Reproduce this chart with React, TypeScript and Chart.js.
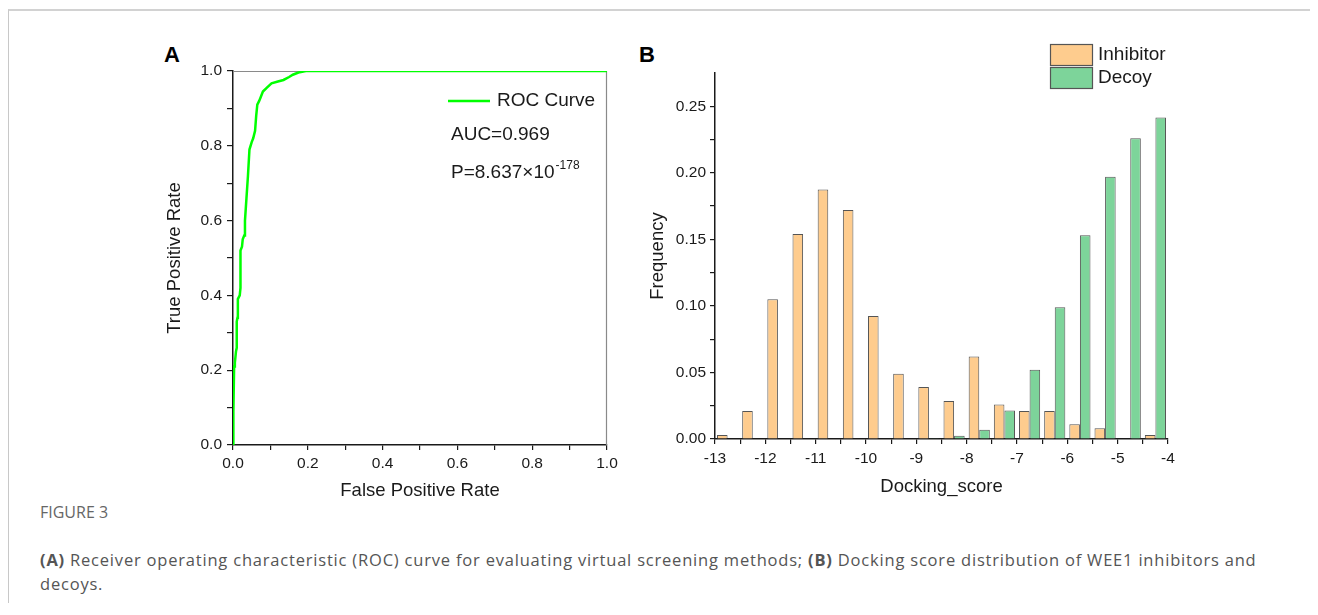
import React, { useEffect, useRef } from "react";
import { Chart, registerables } from "chart.js";
Chart.register(...registerables);

// ---------- Data: panel A (ROC curve) ----------
const rocFpr = [0, 0.0, 0.002, 0.003, 0.005, 0.008, 0.01, 0.01, 0.012, 0.013, 0.018, 0.02, 0.02, 0.024, 0.026, 0.03, 0.032, 0.036, 0.04, 0.044, 0.05, 0.054, 0.059, 0.062, 0.065, 0.07, 0.074, 0.08, 0.09, 0.103, 0.12, 0.135, 0.15, 0.16, 0.175, 0.195, 1.0];
const rocTpr = [0, 0.07, 0.09, 0.21, 0.22, 0.25, 0.26, 0.33, 0.34, 0.39, 0.4, 0.42, 0.52, 0.53, 0.55, 0.56, 0.6, 0.66, 0.72, 0.79, 0.81, 0.82, 0.84, 0.88, 0.91, 0.92, 0.93, 0.945, 0.955, 0.967, 0.972, 0.976, 0.984, 0.99, 0.996, 1.0, 1.0];
const rocLabel = "ROC Curve";
const aucText = "AUC=0.969";
const pText = "P=8.637×10";
const pExp = "-178";

// ---------- Data: panel B (docking score histogram) ----------
const binStarts = [-13, -12.5, -12, -11.5, -11, -10.5, -10, -9.5, -9, -8.5, -8, -7.5, -7, -6.5, -6, -5.5, -5, -4.5];
const inhibitorFreq = [0.003, 0.021, 0.105, 0.154, 0.1875, 0.172, 0.0925, 0.049, 0.039, 0.0285, 0.062, 0.026, 0.021, 0.021, 0.011, 0.008, 0, 0.003];
const decoyFreq = [0, 0, 0, 0, 0, 0, 0, 0, 0.0006, 0.0025, 0.007, 0.0215, 0.052, 0.099, 0.153, 0.197, 0.226, 0.2415];
const seriesNames = ["Inhibitor", "Decoy"];

const FONT = "'Liberation Sans', Arial, Helvetica, sans-serif";
const tickFont = { family: FONT, size: 15.5 };
const titleFont = { family: FONT, size: 18.5 };
const INK = "#1a1a1a";

const rocDecor = {
  id: "rocDecor",
  beforeDatasetsDraw(chart: any) {
    const { ctx, chartArea: a } = chart;
    ctx.save();
    ctx.strokeStyle = "#8a8a8a";
    ctx.lineWidth = 1.2;
    ctx.beginPath();
    ctx.moveTo(a.left, a.top + 0.5);
    ctx.lineTo(a.right - 0.5, a.top + 0.5);
    ctx.lineTo(a.right - 0.5, a.bottom);
    ctx.stroke();
    ctx.restore();
  },
  afterDraw(chart: any) {
    const { ctx, chartArea: a } = chart;
    const ds = chart.data.datasets[0];
    ctx.save();
    ctx.strokeStyle = ds.borderColor;
    ctx.lineWidth = 2.5;
    ctx.beginPath();
    ctx.moveTo(a.left + 215, a.top + 30);
    ctx.lineTo(a.left + 257, a.top + 30);
    ctx.stroke();
    ctx.fillStyle = INK;
    ctx.textBaseline = "middle";
    ctx.textAlign = "left";
    ctx.font = `19px ${FONT}`;
    ctx.fillText(ds.label, a.left + 264, a.top + 30);
    ctx.fillText(aucText, a.left + 218, a.top + 64);
    ctx.fillText(pText, a.left + 218, a.top + 102);
    const w = ctx.measureText(pText).width;
    ctx.font = `12px ${FONT}`;
    ctx.fillText(pExp, a.left + 218 + w + 1, a.top + 95);
    ctx.restore();
  },
};

const histLegend = {
  id: "histLegend",
  afterDraw(chart: any) {
    const { ctx, chartArea: a } = chart;
    ctx.save();
    chart.data.datasets.forEach((ds: any, i: number) => {
      const x = a.right - 118;
      const y = a.top - 29 + i * 23;
      ctx.fillStyle = ds.backgroundColor;
      ctx.fillRect(x, y, 42, 21);
      ctx.strokeStyle = "#555";
      ctx.lineWidth = 1.2;
      ctx.strokeRect(x + 0.5, y + 0.5, 42, 21);
      ctx.fillStyle = INK;
      ctx.font = `19px ${FONT}`;
      ctx.textBaseline = "middle";
      ctx.textAlign = "left";
      ctx.fillText(ds.label, a.right - 70, y + 11);
    });
    ctx.restore();
  },
};

function RocChart() {
  const ref = useRef<HTMLCanvasElement>(null);
  useEffect(() => {
    const chart = new Chart(ref.current as HTMLCanvasElement, {
      type: "line",
      data: {
        datasets: [
          {
            label: rocLabel,
            data: rocFpr.map((x, i) => ({ x, y: rocTpr[i] })),
            borderColor: "#00ff00",
            borderWidth: 2.5,
            pointRadius: 0,
            tension: 0,
            fill: false,
          },
        ],
      },
      options: {
        responsive: false,
        animation: false,
        layout: { padding: { top: 31, right: 33, left: 0, bottom: 0 } },
        plugins: { legend: { display: false }, tooltip: { enabled: false } },
        scales: {
          x: {
            type: "linear",
            min: 0,
            max: 1,
            offset: false,
            afterFit: (s: any) => { s.height = 65; },
            ticks: {
              stepSize: 0.1,
              autoSkip: false,
              maxRotation: 0,
              padding: 4,
              font: tickFont,
              color: INK,
              callback: (v: any) => (Math.round(Number(v) * 10) % 2 === 0 ? Number(v).toFixed(1) : ""),
            },
            grid: { drawOnChartArea: false, offset: false, tickLength: 5, color: INK, lineWidth: 1.2 },
            border: { color: INK, width: 1.5 },
            title: { display: true, text: "False Positive Rate", font: titleFont, color: INK, padding: { top: 0, bottom: 8 } },
          },
          y: {
            type: "linear",
            min: 0,
            max: 1,
            afterFit: (s: any) => { s.width = 83; },
            ticks: {
              stepSize: 0.1,
              autoSkip: false,
              padding: 5,
              font: tickFont,
              color: INK,
              callback: (v: any) => (Math.round(Number(v) * 10) % 2 === 0 ? Number(v).toFixed(1) : ""),
            },
            grid: { drawOnChartArea: false, tickLength: 6, color: INK, lineWidth: 1.2 },
            border: { color: INK, width: 1.5 },
            title: { display: true, text: "True Positive Rate", font: titleFont, color: INK, padding: { top: 14, bottom: 0 } },
          },
        },
      },
      plugins: [rocDecor],
    } as any);
    return () => chart.destroy();
  }, []);
  return (
    <canvas
      ref={ref}
      width={490}
      height={470}
      style={{ position: "absolute", left: 142, top: 32, width: 490, height: 470 }}
    />
  );
}

function HistChart() {
  const ref = useRef<HTMLCanvasElement>(null);
  useEffect(() => {
    const chart = new Chart(ref.current as HTMLCanvasElement, {
      type: "bar",
      data: {
        labels: binStarts.map(String),
        datasets: [
          {
            label: seriesNames[0],
            data: inhibitorFreq,
            backgroundColor: "#fecc8e",
            borderColor: "#555555",
            borderWidth: 1,
            xAxisID: "xc",
            categoryPercentage: 0.84,
            barPercentage: 1.0,
          },
          {
            label: seriesNames[1],
            data: decoyFreq,
            backgroundColor: "#7dd49a",
            borderColor: "#555555",
            borderWidth: 1,
            xAxisID: "xc",
            categoryPercentage: 0.84,
            barPercentage: 1.0,
          },
        ],
      },
      options: {
        responsive: false,
        animation: false,
        layout: { padding: { top: 33, right: 32, left: 0, bottom: 0 } },
        plugins: { legend: { display: false }, tooltip: { enabled: false } },
        scales: {
          xc: { type: "category", axis: "x", display: false, offset: true, grid: { display: false } },
          x: {
            type: "linear",
            position: "bottom",
            min: -13,
            max: -4,
            offset: false,
            afterFit: (s: any) => { s.height = 71; },
            ticks: {
              stepSize: 0.5,
              autoSkip: false,
              maxRotation: 0,
              padding: 5,
              font: tickFont,
              color: INK,
              callback: (v: any) => (Math.abs(Number(v) - Math.round(Number(v))) < 1e-6 ? String(Math.round(Number(v))) : ""),
            },
            grid: { drawOnChartArea: false, offset: false, tickLength: 5, color: INK, lineWidth: 1.2 },
            border: { color: INK, width: 1.5 },
            title: { display: true, text: "Docking_score", font: titleFont, color: INK, padding: { top: 0, bottom: 12 } },
          },
          y: {
            type: "linear",
            min: 0,
            max: 0.275,
            afterFit: (s: any) => { s.width = 75; },
            ticks: {
              stepSize: 0.025,
              autoSkip: false,
              padding: 4,
              font: tickFont,
              color: INK,
              callback: (v: any) => (Math.round(Number(v) / 0.025) % 2 === 0 ? Number(v).toFixed(2) : ""),
            },
            grid: {
              drawOnChartArea: false,
              tickLength: 5,
              lineWidth: 1.2,
              color: (c: any) => (c.tick && c.tick.value > 0.26 ? "rgba(0,0,0,0)" : INK),
            },
            border: { color: INK, width: 1.5 },
            title: { display: true, text: "Frequency", font: titleFont, color: INK, padding: { top: 7, bottom: 0 } },
          },
        },
      },
      plugins: [histLegend],
    } as any);
    return () => chart.destroy();
  }, []);
  return (
    <canvas
      ref={ref}
      width={560}
      height={470}
      style={{ position: "absolute", left: 632, top: 32, width: 560, height: 470 }}
    />
  );
}

export default function App() {
  const panelLabel: React.CSSProperties = {
    position: "absolute",
    fontFamily: FONT,
    fontWeight: "bold",
    fontSize: 22,
    lineHeight: "22px",
    color: "#000",
  };
  const caption: React.CSSProperties = {
    position: "absolute",
    left: 32,
    fontFamily: "'Open Sans', 'Noto Sans', sans-serif",
    fontSize: 16.5,
    letterSpacing: "0.8px",
    lineHeight: "24px",
    color: "#555",
    whiteSpace: "nowrap",
  };
  return (
    <div style={{ position: "relative", width: 1310, height: 595, overflow: "hidden", background: "#fff" }}>
      <div
        style={{
          position: "absolute",
          left: 0,
          top: 1,
          width: 1310,
          height: 594,
          borderTop: "2px solid #d2d2d2",
          borderLeft: "1px solid #c8c8c8",
          boxSizing: "border-box",
        }}
      />
      <div style={{ ...panelLabel, left: 156, top: 36 }}>A</div>
      <div style={{ ...panelLabel, left: 631, top: 36 }}>B</div>
      <RocChart />
      <HistChart />
      <div style={{ ...caption, top: 492, fontSize: 16, letterSpacing: "0px", color: "#666" }}>FIGURE 3</div>
      <div style={{ ...caption, top: 540 }}>
        <b>(A)</b> Receiver operating characteristic (ROC) curve for evaluating virtual screening methods; <b>(B)</b> Docking score distribution of WEE1 inhibitors and
        <br />
        decoys.
      </div>
    </div>
  );
}
